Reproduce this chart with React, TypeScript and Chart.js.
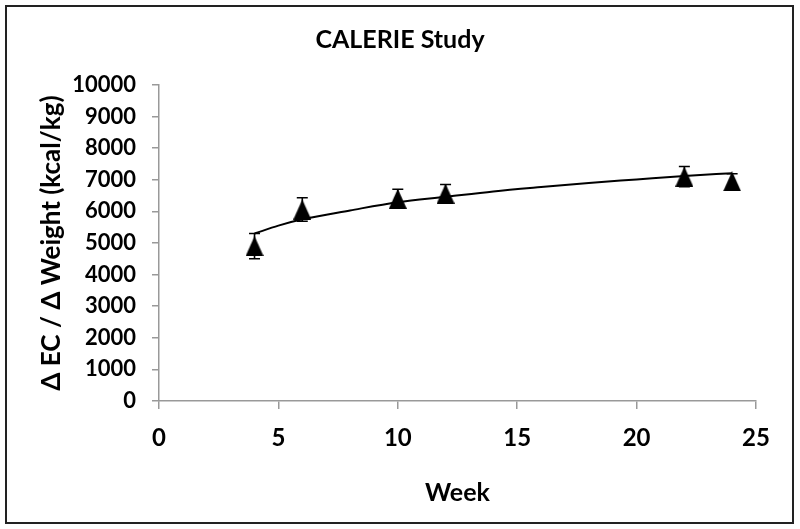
import React, { useEffect, useRef } from "react";
import { Chart, registerables } from "chart.js";

Chart.register(...registerables);

const weeks = [4, 6, 10, 12, 22, 24];
const ratioValues = [4900, 6060, 6400, 6560, 7100, 6950];
const ratioErrors = [400, 370, 300, 290, 320, 240];

const trendWeeks = [4, 5, 6, 8, 10, 12, 14, 16, 18, 20, 22, 24];
const trendValues = [5300, 5550, 5750, 6030, 6290, 6460, 6630, 6770, 6900, 7010, 7120, 7210];

const xTicks = [0, 5, 10, 15, 20, 25];
const yTicks = [0, 1000, 2000, 3000, 4000, 5000, 6000, 7000, 8000, 9000, 10000];

const FONT = "Lato, 'Open Sans', sans-serif";

function makeTriangle(): HTMLCanvasElement {
  const c = document.createElement("canvas");
  const w = 18, h = 20;
  c.width = w;
  c.height = h;
  const ctx = c.getContext("2d")!;
  ctx.fillStyle = "#000";
  ctx.beginPath();
  ctx.moveTo(w / 2, 0);
  ctx.lineTo(w, h);
  ctx.lineTo(0, h);
  ctx.closePath();
  ctx.fill();
  return c;
}

const errorBarPlugin = {
  id: "errorBars",
  beforeDatasetsDraw(chart: any) {
    const { ctx, scales } = chart;
    const xs = scales.x, ys = scales.y;
    ctx.save();
    ctx.strokeStyle = "#000";
    ctx.lineWidth = 1.6;
    weeks.forEach((w, i) => {
      const x = xs.getPixelForValue(w);
      const yt = ys.getPixelForValue(ratioValues[i] + ratioErrors[i]);
      const yb = ys.getPixelForValue(ratioValues[i] - ratioErrors[i]);
      ctx.beginPath();
      ctx.moveTo(x, yt);
      ctx.lineTo(x, yb);
      ctx.moveTo(x - 5.5, yt);
      ctx.lineTo(x + 5.5, yt);
      ctx.moveTo(x - 5.5, yb);
      ctx.lineTo(x + 5.5, yb);
      ctx.stroke();
    });
    ctx.restore();
  },
};

export default function App() {
  const ref = useRef<HTMLCanvasElement>(null);
  useEffect(() => {
    if (!ref.current) return;
    const tri = makeTriangle();
    const chart = new Chart(ref.current, {
      type: "scatter",
      data: {
        datasets: [
          {
            label: "CALERIE",
            data: weeks.map((w, i) => ({ x: w, y: ratioValues[i] })),
            pointStyle: tri as any,
            pointRadius: 10,
            showLine: false,
          },
          {
            label: "Trend",
            data: trendWeeks.map((w, i) => ({ x: w, y: trendValues[i] })),
            showLine: true,
            borderColor: "#000",
            borderWidth: 2,
            pointRadius: 0,
            cubicInterpolationMode: "monotone",
          } as any,
        ],
      },
      options: {
        animation: false,
        responsive: false,
        maintainAspectRatio: false,
        layout: { padding: { top: 0, right: 0, bottom: 0, left: 0 } },
        plugins: {
          legend: { display: false },
          tooltip: { enabled: false },
          title: {
            display: true,
            text: "CALERIE Study",
            color: "#000",
            font: { family: FONT, size: 25, weight: "bold" },
            padding: { top: 25, bottom: 30 },
          },
        },
        scales: {
          x: {
            type: "linear",
            min: 0,
            max: 25,
            afterBuildTicks: (s: any) => {
              s.ticks = xTicks.map((v) => ({ value: v }));
            },
            afterFit: (s: any) => {
              s.height = 128;
            },
            grid: {
              drawOnChartArea: false,
              drawTicks: true,
              tickLength: 8,
              color: "#999",
              lineWidth: 1.5,
            },
            border: { display: true, color: "#999", width: 1.5 },
            ticks: {
              color: "#000",
              padding: 15,
              callback: (v: any) => String(v),
              font: { family: FONT, size: 24, weight: "bold" },
            },
            title: {
              display: true,
              text: "Week",
              color: "#000",
              font: { family: FONT, size: 25, weight: "bold" },
              padding: { top: 0, bottom: 21 },
            },
          },
          y: {
            type: "linear",
            min: 0,
            max: 10000,
            afterBuildTicks: (s: any) => {
              s.ticks = yTicks.map((v) => ({ value: v }));
            },
            afterFit: (s: any) => {
              s.width = 159;
            },
            grid: {
              drawOnChartArea: false,
              drawTicks: true,
              tickLength: 7,
              color: "#999",
              lineWidth: 1.5,
            },
            border: { display: true, color: "#999", width: 1.5 },
            ticks: {
              color: "#000",
              padding: 16,
              callback: (v: any) => String(v),
              font: { family: FONT, size: 22, weight: "bold" },
            },
            title: {
              display: true,
              text: "Δ EC / Δ Weight (kcal/kg)",
              color: "#000",
              font: { family: FONT, size: 26, weight: "bold" },
              padding: { top: 36, bottom: 0 },
            },
          },
          yRight: {
            type: "linear",
            position: "right",
            min: 0,
            max: 10000,
            afterFit: (s: any) => {
              s.width = 44;
            },
            grid: { display: false },
            border: { display: false },
            ticks: { display: false },
          },
        },
      },
      plugins: [errorBarPlugin],
    });
    return () => chart.destroy();
  }, []);

  return (
    <div style={{ position: "absolute", left: 0, top: 0, width: 800, height: 529, background: "#fff" }}>
      <div
        style={{
          position: "absolute",
          left: 5,
          top: 5,
          width: 789,
          height: 519,
          border: "2px solid #222",
          boxSizing: "border-box",
        }}
      />
      <canvas ref={ref} width={800} height={529} style={{ position: "absolute", left: 0, top: 0, width: 800, height: 529 }} />
    </div>
  );
}
